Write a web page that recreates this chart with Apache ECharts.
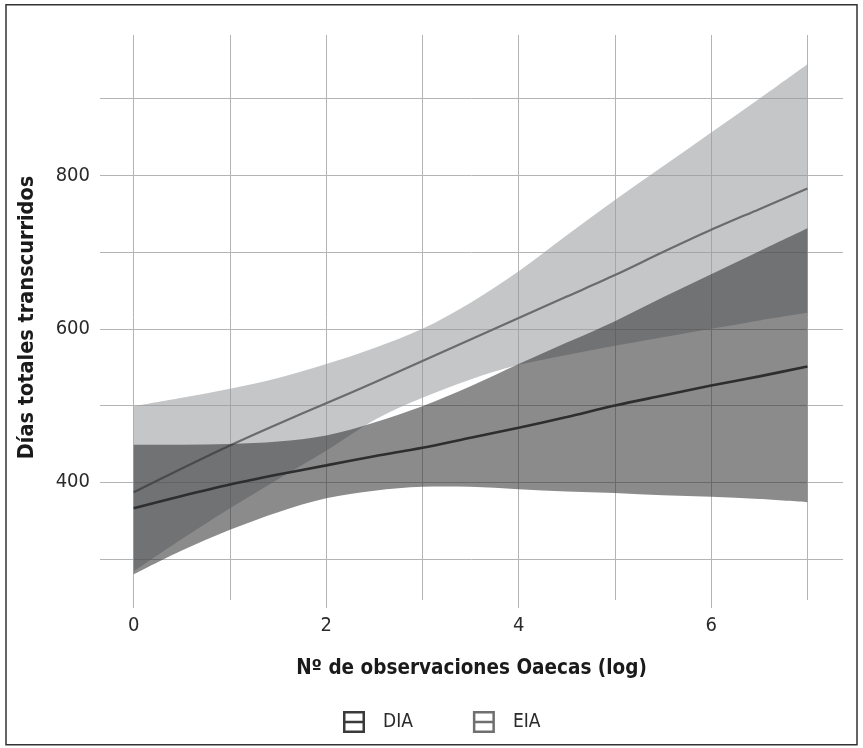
<!DOCTYPE html>
<html><head><meta charset="utf-8">
<script src="https://cdn.jsdelivr.net/npm/echarts@6/dist/echarts.min.js"></script>
<style>html,body{margin:0;padding:0;background:#fff}#c{width:863px;height:748px}</style>
</head><body><div id="c"></div>
<script>
// ---- data ----
const xValues  = [0, 0.5, 1, 1.5, 2, 2.5, 3, 3.5, 4, 4.5, 5, 5.5, 6, 6.5, 7];
const diaFit   = [366, 382, 397, 410, 422, 434, 445, 458, 471, 485, 500, 513, 526, 538, 551];
const diaLower = [280, 311, 338, 361, 379, 389, 394, 394, 391, 388, 386, 383, 381, 378, 374];
const diaUpper = [449, 449, 450, 453, 461, 478, 499, 525, 554, 582, 610, 641, 671, 701, 731];
const eiaFit   = [387, 418, 448, 476, 503, 530, 558, 586, 614, 642, 670, 700, 729, 756, 783];
const eiaLower = [284, 326, 366, 404, 441, 481, 510, 534, 553, 566, 578, 589, 600, 611, 621];
const eiaUpper = [499, 510, 522, 536, 554, 575, 600, 634, 675, 722, 768, 812, 856, 900, 945];
const xTickLabels = [0, 2, 4, 6];
const yTickLabels = [400, 600, 800];
const xMinorGrid = [1, 3, 5, 7];
const yMinorGrid = [300, 500, 700, 900];
const groupNames = ['DIA', 'EIA'];
const xTitle = 'Nº de observaciones Oaecas (log)';
const yTitle = 'Días totales transcurridos';

// ---- style ----
const FONT = "'Liberation Sans Narrow','DejaVu Sans Condensed','Roboto',sans-serif";
const GRID = '#b4b4b4';

function smoothPath(pts) {
  let d = '';
  for (let i = 0; i < pts.length - 1; i++) {
    const p0 = pts[Math.max(i - 1, 0)], p1 = pts[i], p2 = pts[i + 1], p3 = pts[Math.min(i + 2, pts.length - 1)];
    const c1 = [p1[0] + (p2[0] - p0[0]) / 6, p1[1] + (p2[1] - p0[1]) / 6];
    const c2 = [p2[0] - (p3[0] - p1[0]) / 6, p2[1] - (p3[1] - p1[1]) / 6];
    d += ' C' + c1[0] + ',' + c1[1] + ' ' + c2[0] + ',' + c2[1] + ' ' + p2[0] + ',' + p2[1];
  }
  return d;
}
function bandRender(lower, upper, color) {
  return function (params, api) {
    if (params.dataIndex !== 0) return;
    const up = xValues.map((x, i) => api.coord([x, upper[i]]));
    const lo = xValues.map((x, i) => api.coord([x, lower[i]])).reverse();
    const d = 'M' + up[0][0] + ',' + up[0][1] + smoothPath(up) +
      ' L' + lo[0][0] + ',' + lo[0][1] + smoothPath(lo) + ' Z';
    return { type: 'path', shape: { pathData: d }, style: { fill: color } };
  };
}
const pairs = arr => xValues.map((x, i) => [x, arr[i]]);
const ICON = 'path://M0,0H22V22H0Z M2.5,2.5V9.75H19.5V2.5Z M2.5,12.25V19.5H19.5V12.25Z';

const chart = echarts.init(document.getElementById('c'), null, { renderer: 'canvas' });
chart.setOption({
  animation: false,
  backgroundColor: '#ffffff',
  textStyle: { fontFamily: FONT },
  graphic: [{
    type: 'rect', silent: true,
    shape: { x: 6, y: 4.7, width: 851, height: 740 },
    style: { fill: 'none', stroke: '#333333', lineWidth: 1.5 }
  }],
  grid: { left: 100, top: 35, width: 743, height: 565, containLabel: false },
  xAxis: {
    type: 'value', min: -0.35, max: 7.37,
    name: xTitle, nameLocation: 'middle', nameGap: 58,
    nameTextStyle: { fontFamily: FONT, fontSize: 20.5, fontWeight: 'bold', color: '#1a1a1a' },
    axisLine: { show: false },
    axisTick: { show: true, customValues: xTickLabels, length: 8, lineStyle: { color: GRID, width: 1 } },
    axisLabel: { customValues: xTickLabels, margin: 16, fontFamily: FONT, fontSize: 20, color: '#2b2b2b' },
    splitLine: { show: true, lineStyle: { color: GRID, width: 1 } }
  },
  yAxis: {
    type: 'value', min: 246.5, max: 983,
    name: yTitle, nameLocation: 'middle', nameGap: 62,
    nameTextStyle: { fontFamily: FONT, fontSize: 21.5, fontWeight: 'bold', color: '#1a1a1a' },
    axisLine: { show: false },
    axisTick: { show: true, customValues: yTickLabels, length: 4, lineStyle: { color: GRID, width: 1 } },
    axisLabel: { customValues: yTickLabels, margin: 10, fontFamily: FONT, fontSize: 20, color: '#2b2b2b' },
    splitLine: { show: true, lineStyle: { color: GRID, width: 1 } }
  },
  legend: {
    left: 343, top: 711, orient: 'horizontal', padding: 0,
    itemWidth: 22, itemHeight: 22, itemGap: 60, selectedMode: false,
    textStyle: { fontFamily: FONT, fontSize: 19, color: '#2b2b2b', padding: [0, 0, 0, 13] },
    data: [
      { name: groupNames[0], icon: ICON, itemStyle: { color: '#3a3a3a', borderWidth: 0 } },
      { name: groupNames[1], icon: ICON, itemStyle: { color: '#6f6f6f', borderWidth: 0 } }
    ]
  },
  series: [
    {
      name: 'grid', type: 'line', data: [], silent: true, z: 1,
      markLine: {
        silent: true, z: 1, symbol: ['none', 'none'], animation: false,
        label: { show: false },
        lineStyle: { color: GRID, width: 1, type: 'solid' },
        emphasis: { disabled: true },
        data: yMinorGrid.map(v => ({ yAxis: v })).concat(xMinorGrid.map(v => ({ xAxis: v })))
      }
    },
    {
      name: groupNames[1], type: 'custom', z: 2, silent: true,
      renderItem: bandRender(eiaLower, eiaUpper, 'rgba(151,153,157,0.56)'),
      data: [[xValues[0], eiaUpper[0]]], encode: { x: 0, y: 1 }
    },
    {
      name: groupNames[1] + ' ajuste', type: 'line', z: 3, silent: true,
      data: pairs(eiaFit), showSymbol: false, smooth: 0.3,
      lineStyle: { color: '#6b6b6b', width: 2.2 }
    },
    {
      name: groupNames[0], type: 'custom', z: 4, silent: true,
      renderItem: bandRender(diaLower, diaUpper, 'rgba(48,48,48,0.56)'),
      data: [[xValues[0], diaUpper[0]]], encode: { x: 0, y: 1 }
    },
    {
      name: groupNames[0] + ' ajuste', type: 'line', z: 5, silent: true,
      data: pairs(diaFit), showSymbol: false, smooth: 0.3,
      lineStyle: { color: '#2e2e2e', width: 2.6 }
    }
  ]
});
</script>
</body></html>
